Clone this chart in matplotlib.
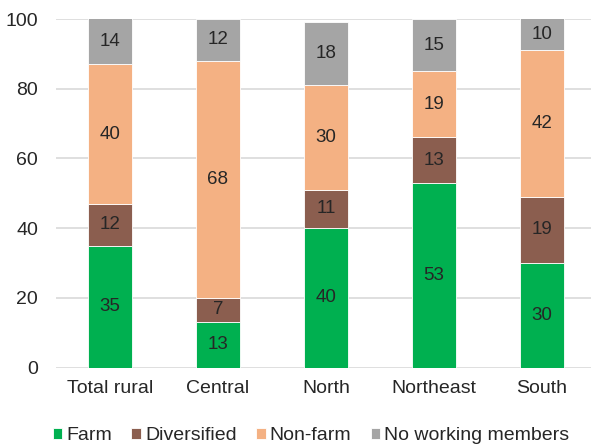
import numpy as np
import matplotlib.pyplot as plt

plt.rcParams['font.family'] = ['Liberation Sans', 'DejaVu Sans']

regions = ['Total rural', 'Central', 'North', 'Northeast', 'South']
farm = [35, 13, 40, 53, 30]
diversified = [12, 7, 11, 13, 19]
nonfarm = [40, 68, 30, 19, 42]
no_work = [14, 12, 18, 15, 10]

series = [('Farm', farm, '#00B050'),
          ('Diversified', diversified, '#8B5E4F'),
          ('Non-farm', nonfarm, '#F4B183'),
          ('No working members', no_work, '#A5A5A5')]

txt = '#262626'
fig = plt.figure(figsize=(5.91, 4.45), dpi=100)
ax = fig.add_axes([56 / 591, 77.5 / 445, 1 - 56 / 591, 348.5 / 445])

x = np.arange(len(regions))
bottom = np.zeros(len(regions))
for name, vals, col in series:
    vals = np.array(vals, dtype=float)
    ax.bar(x, vals, 0.405, bottom=bottom, color=col, label=name,
           edgecolor='white', linewidth=0.6, zorder=3)
    for xi, b, v in zip(x, bottom, vals):
        top = min(b + v, 100)
        ax.text(xi, (b + top) / 2, '%d' % v, ha='center', va='center',
                fontsize=13.5, color=txt, zorder=4)
    bottom += vals

ax.set_ylim(0, 100)
ax.set_xlim(-0.5, 4.454)
ax.set_yticks(range(0, 101, 20))
ax.set_xticks(x)
ax.set_xticklabels(regions)
ax.tick_params(length=0, labelsize=14, labelcolor=txt)
ax.tick_params(axis='x', pad=9)
ax.tick_params(axis='y', pad=13)
ax.yaxis.grid(True, color='#D9D9D9', linewidth=1.2, zorder=0)
for s in ax.spines.values():
    s.set_visible(False)

fig.legend(loc='center', bbox_to_anchor=(311 / 591, 9 / 445), ncol=4,
           frameon=False, fontsize=14, handlelength=0.5, handleheight=0.5,
           handletextpad=0.2, columnspacing=1.0, labelcolor=txt,
           borderpad=0)

fig.savefig('out.png', dpi=100)
plt.close()
